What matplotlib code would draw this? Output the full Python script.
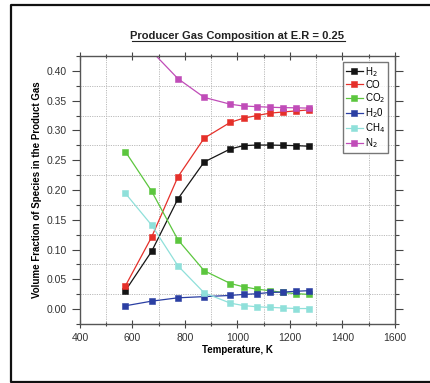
import matplotlib
matplotlib.use("Agg")
import matplotlib.pyplot as plt
from matplotlib.lines import Line2D
from matplotlib.ticker import MultipleLocator

plt.rcParams['font.family'] = ['Liberation Sans', 'DejaVu Sans']

temps = [573, 673, 773, 873, 973, 1023, 1073, 1123, 1173, 1223, 1273]
h2 = [0.031, 0.097, 0.185, 0.247, 0.269, 0.2745, 0.2755, 0.2755, 0.275, 0.2745, 0.2735]
co = [0.039, 0.121, 0.222, 0.287, 0.3137, 0.3205, 0.325, 0.329, 0.331, 0.3328, 0.3345]
co2 = [0.2644, 0.198, 0.1165, 0.0645, 0.043, 0.0375, 0.0336, 0.031, 0.028, 0.026, 0.0247]
h2o = [0.0056, 0.0134, 0.019, 0.021, 0.023, 0.0247, 0.0258, 0.028, 0.0286, 0.030, 0.031]
ch4 = [0.1944, 0.141, 0.0728, 0.0274, 0.010, 0.006, 0.004, 0.003, 0.002, 0.001, 0.001]
n2_temps = [673, 773, 873, 973, 1023, 1073, 1123, 1173, 1223, 1273]
n2 = [0.433, 0.387, 0.3555, 0.344, 0.341, 0.340, 0.339, 0.3383, 0.338, 0.3375]

labels = ['H$_2$', 'CO', 'CO$_2$', 'H$_2$0', 'CH$_4$', 'N$_2$']
colors = ['#151515', '#e5302a', '#5cc63e', '#2b3fa3', '#8fe0da', '#c04cb8']

fig = plt.figure(figsize=(4.30, 3.83), dpi=100)
ax = fig.add_axes([0.186, 0.154, 0.7326, 0.6998])

series = [(temps, h2), (temps, co), (temps, co2), (temps, h2o), (temps, ch4), (n2_temps, n2)]
for (x, y), lab, c in zip(series, labels, colors):
    ax.plot(x, y, '-', color=c, lw=0.9, marker='s', markersize=4.5,
            markerfacecolor=c, markeredgecolor=c, markeredgewidth=0.4, label=lab,
            clip_on=True)

ax.set_xlim(400, 1600)
ax.set_ylim(-0.025, 0.425)
ax.xaxis.set_major_locator(MultipleLocator(200))
ax.xaxis.set_minor_locator(MultipleLocator(100))
ax.yaxis.set_major_locator(MultipleLocator(0.05))
ax.yaxis.set_minor_locator(MultipleLocator(0.025))
ax.yaxis.set_major_formatter(matplotlib.ticker.FormatStrFormatter('%.2f'))

for v in [500, 700, 900, 1100, 1300, 1500]:
    ax.axvline(v, color='#bbbbbb', lw=0.7, ls=(0, (1.2, 1.2)), zorder=0)
for v in [0.025, 0.075, 0.125, 0.175, 0.225, 0.275, 0.325, 0.375]:
    ax.axhline(v, color='#bbbbbb', lw=0.7, ls=(0, (1.2, 1.2)), zorder=0)

ax.tick_params(which='both', top=True, right=True, direction='inout',
               colors='#444444', labelcolor='#333333', labelsize=7.5, width=0.8)
ax.tick_params(which='major', length=6)
ax.tick_params(which='minor', length=3)
ax.tick_params(axis='y', which='both', direction='out')
ax.tick_params(axis='x', which='both', top=True, direction='inout')
for s in ax.spines.values():
    s.set_color('#555555')
    s.set_linewidth(1.0)

ax.set_xlabel('Temperature, K', fontsize=7, fontweight='bold', labelpad=1.5)
ax.set_ylabel('Volume Fraction of Species in the Product Gas', fontsize=7,
              fontweight='bold', labelpad=3)

leg = ax.legend(loc='upper right', bbox_to_anchor=(0.985, 0.985), fontsize=7,
                frameon=True, fancybox=False, edgecolor='#555555',
                handlelength=1.8, handletextpad=0.2, labelspacing=0.12,
                borderpad=0.3, borderaxespad=0.2)
leg.get_frame().set_linewidth(1.0)

fig.text(0.5523, 0.905, 'Producer Gas Composition at E.R = 0.25', ha='center',
         va='center', fontsize=8, fontweight='bold', color='#222222')
fig.add_artist(Line2D([132/430, 345/430], [1-41/383, 1-41/383],
                      color='#222222', lw=0.8, transform=fig.transFigure))

# outer frame (left, top, bottom)
fig.add_artist(Line2D([1.0, 11/430, 11/430, 1.0],
                      [1-5/383, 1-5/383, 1-382/383, 1-382/383],
                      color='#111111', lw=1.6, transform=fig.transFigure))

fig.savefig('out.png', dpi=100)
